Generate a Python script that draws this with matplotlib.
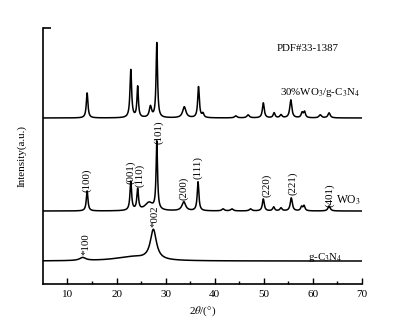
import numpy as np
import matplotlib
matplotlib.use("Agg")
import matplotlib.pyplot as plt

plt.rcParams['font.family'] = ['Liberation Serif', 'DejaVu Serif']
plt.rcParams['mathtext.fontset'] = 'stix'

# Peak lists: position (2theta), height, FWHM
wo3_pos = [14.0, 22.9, 24.3, 26.6, 28.2, 33.7, 36.6, 41.7, 43.5, 47.3, 49.9, 52.0, 53.5, 55.6, 57.7, 58.2, 63.3]
wo3_h   = [20, 29, 21, 8, 68, 9, 29, 2, 2, 2, 12, 4, 3, 13, 4, 5, 5]
wo3_w   = [0.4, 0.4, 0.4, 2.0, 0.35, 0.9, 0.4, 0.6, 0.6, 0.6, 0.45, 0.45, 0.5, 0.5, 0.45, 0.45, 0.55]
wo3_base = 73

comp_pos = [14.0, 22.9, 24.3, 26.9, 28.2, 33.8, 36.7, 37.6, 44.3, 46.8, 49.9, 52.1, 53.5, 55.5, 57.8, 58.3, 61.5, 63.3]
comp_h   = [25, 48, 31, 11, 75, 11, 31, 4, 2, 3, 15, 5, 3, 18, 5, 6, 3, 5]
comp_w   = [0.4, 0.4, 0.35, 0.55, 0.35, 0.8, 0.4, 0.45, 0.6, 0.6, 0.45, 0.45, 0.5, 0.5, 0.45, 0.45, 0.6, 0.55]
comp_base = 166

cn_pos = [13.1, 23.0, 27.5]
cn_h   = [3, 4, 30]
cn_w   = [1.5, 8.0, 1.5]
cn_base = 23

two_theta = np.linspace(5, 70, 2600)

def pattern(pos, h, w, base):
    y = np.full_like(two_theta, float(base))
    for p, hh, ww in zip(pos, h, w):
        y += hh / (1 + ((two_theta - p) / (ww / 2)) ** 2)
    return y

fig = plt.figure(figsize=(4.09, 3.25), dpi=100)
ax = fig.add_axes([0.105, 0.126, 0.78, 0.788])

for pos, h, w, b in [(comp_pos, comp_h, comp_w, comp_base),
                     (wo3_pos, wo3_h, wo3_w, wo3_base),
                     (cn_pos, cn_h, cn_w, cn_base)]:
    ax.plot(two_theta, pattern(pos, h, w, b), color='black', lw=1.1)

ax.set_xlim(5, 70)
ax.set_ylim(0, 256)
ax.spines['top'].set_visible(False)
ax.spines['right'].set_visible(False)
ax.spines['left'].set_linewidth(1.2)
ax.spines['bottom'].set_linewidth(1.2)
ax.set_xticks([10, 20, 30, 40, 50, 60, 70])
ax.set_xticks([15, 25, 35, 45, 55, 65], minor=True)
ax.tick_params(axis='x', direction='in', length=4, width=1, labelsize=8, pad=4)
ax.tick_params(axis='x', which='minor', direction='in', length=2.5, width=1)
ax.set_yticks([256])
ax.set_yticklabels([])
ax.tick_params(axis='y', direction='in', length=6, width=1.2)

ax.set_xlabel(r'2$\theta$/(°)', fontsize=8, labelpad=4)
ax.set_ylabel('Intensity(a.u.)', fontsize=8, labelpad=8)

fs = 7.8
ax.text(59.0, 235, 'PDF#33-1387', fontsize=fs, ha='center', va='center')
ax.text(61.4, 191, r'30%WO$_3$/g-C$_3$N$_4$', fontsize=fs, ha='center', va='center')
ax.text(67.3, 84, r'WO$_3$', fontsize=fs+0.5, ha='center', va='center')
ax.text(62.6, 27, r'g-C$_3$N$_4$', fontsize=fs, ha='center', va='center')

hkl_labels = ['(100)', '(001)', '(110)', '(101)', '(200)', '(111)', '(220)', '(221)', '(401)', '*100', '*002']
hkl_x = [14.0, 22.85, 24.75, 28.5, 33.7, 36.6, 50.55, 55.85, 63.45, 13.75, 27.8]
hkl_y = [104, 112, 109, 152, 96, 116, 99, 101, 89, 40, 68]
for t, x, y in zip(hkl_labels, hkl_x, hkl_y):
    ax.text(x, y, t, rotation=90, fontsize=fs, ha='center', va='center')

fig.savefig('out.png', dpi=100)
